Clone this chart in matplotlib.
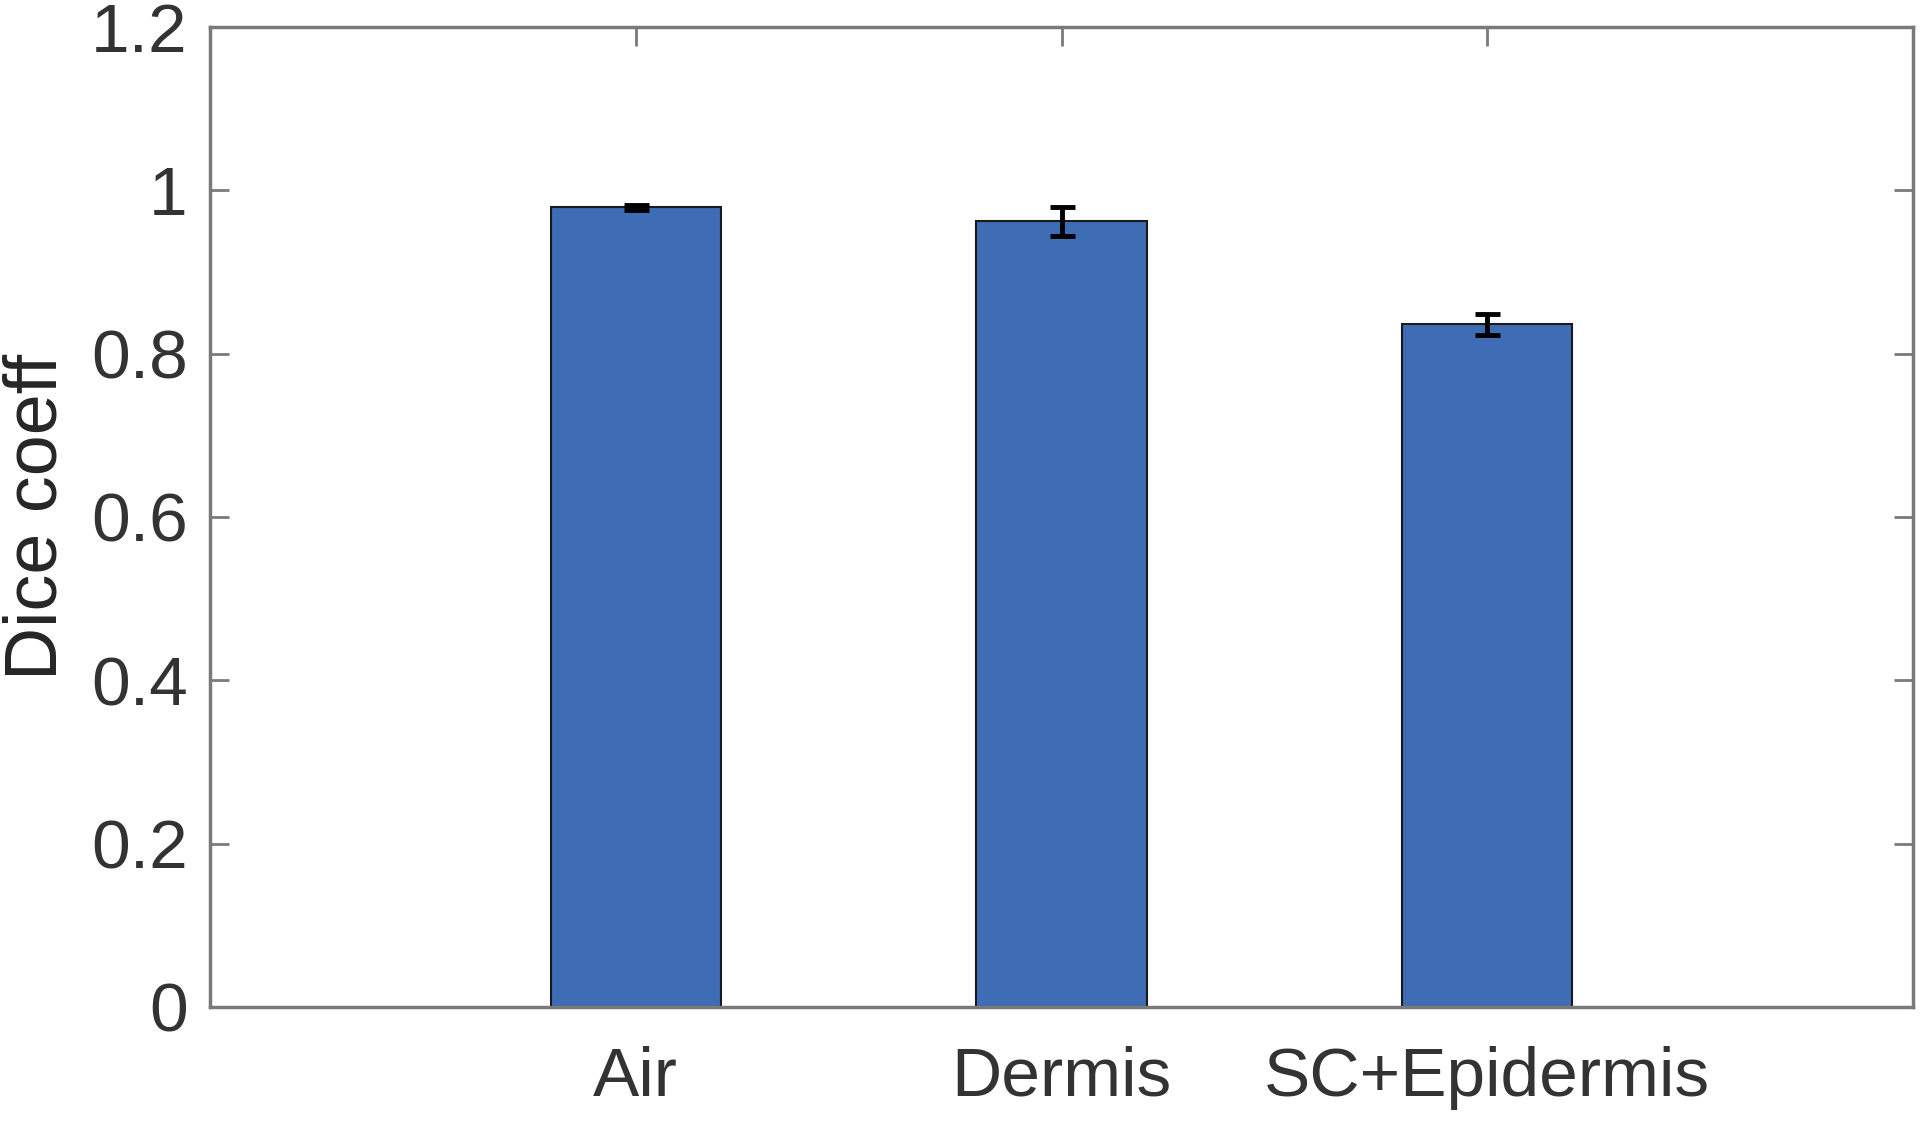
import matplotlib.pyplot as plt

plt.rcParams['font.family'] = ['Liberation Sans', 'DejaVu Sans']

categories = ['Air', 'Dermis', 'SC+Epidermis']
dice_mean = [0.979, 0.962, 0.836]
dice_err = [0.003, 0.018, 0.013]

fig = plt.figure(figsize=(19.2, 11.23), dpi=100)
ax = fig.add_axes([210 / 1920, 1 - 1007 / 1123, 1703 / 1920, 980 / 1123])

x = [1, 2, 3]
ax.bar(x, dice_mean, width=0.4, color='#3e6db5', edgecolor='#1a1a1a', linewidth=1.5, zorder=2)
ax.errorbar(x, dice_mean, yerr=dice_err, fmt='none', ecolor='black', elinewidth=3.5, capsize=9, capthick=3.5, zorder=3)

ax.set_xlim(0, 4)
ax.set_ylim(0, 1.2)
ax.set_xticks(x)
ax.set_xticklabels(categories)
ax.set_yticks([0, 0.2, 0.4, 0.6, 0.8, 1.0, 1.2])
ax.set_yticklabels(['0', '0.2', '0.4', '0.6', '0.8', '1', '1.2'])
ax.tick_params(direction='in', length=14, width=2, colors='#7a7a7a', labelcolor='#333333',
               labelsize=50, top=True, right=True)
ax.tick_params(axis='x', pad=28)
ax.tick_params(axis='y', pad=16)
ax.set_ylabel('Dice coeff', fontsize=53, color='#262626', labelpad=14)
for s in ax.spines.values():
    s.set_color('#7a7a7a')
    s.set_linewidth(2.5)

fig.savefig('out.png', dpi=100)
